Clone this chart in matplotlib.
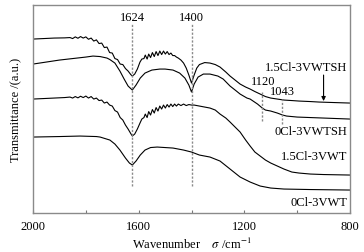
import numpy as np
import matplotlib
matplotlib.use("Agg")
import matplotlib.pyplot as plt

plt.rcParams["font.family"] = ["Liberation Serif", "DejaVu Serif"]
plt.rcParams["mathtext.fontset"] = "stix"

# wavenumber (cm-1) / transmittance (a.u.)
wn_a = [2000, 1960, 1920, 1880, 1860, 1850, 1840, 1830, 1820, 1810, 1800, 1790, 1780, 1770,
        1760, 1750, 1740, 1730, 1720, 1710, 1700, 1690, 1680, 1670, 1660, 1650, 1640, 1630,
        1624, 1615, 1605, 1595, 1588, 1580, 1575, 1568, 1562, 1555, 1548, 1541, 1534, 1527,
        1520, 1513, 1506, 1499, 1492, 1485, 1478, 1471, 1464, 1457, 1450, 1440, 1430, 1420,
        1410, 1400, 1390, 1380, 1370, 1350, 1330, 1310, 1292, 1270, 1254, 1235, 1216, 1195,
        1178, 1160, 1140, 1120, 1100, 1075, 1050, 1020, 993, 950, 917, 860, 800]
t_a = [174, 174.5, 175, 175.2, 175.5, 174.5, 176.2, 174.8, 176.5, 175, 176.2, 173.8, 175, 172,
       173.2, 169.5, 170, 165.5, 166, 160.5, 160, 154.5, 153.5, 149, 148.5, 144.5, 142, 138.5,
       137, 139, 144, 151, 154, 154.5, 158, 154, 159, 155.5, 160.5, 156.5, 161.5, 157.5,
       162, 158.5, 162, 159, 161.5, 158.5, 160, 157.5, 157.5, 156, 155, 153, 150, 145,
       138, 130, 138, 145, 148.5, 150.5, 150, 148.5, 146, 141, 137, 133, 129, 126,
       124, 121.5, 119, 116.5, 115, 114, 113, 112.5, 112, 111.5, 111, 110.5, 110]

wn_b = [2000, 1950, 1900, 1850, 1800, 1773, 1746, 1720, 1709, 1690, 1671, 1655, 1640, 1624,
        1610, 1594, 1576, 1550, 1520, 1500, 1470, 1445, 1425, 1410, 1400, 1390, 1375, 1355,
        1330, 1300, 1280, 1254, 1230, 1216, 1190, 1178, 1150, 1132, 1120, 1100, 1075, 1055,
        1040, 1000, 950, 900, 800]
t_b = [149, 151, 153, 154.5, 156, 157, 156.5, 155, 153.5, 150, 142, 134, 127, 123,
       128, 135, 140, 143, 144, 144, 143, 140, 135, 128, 121, 129, 136, 139,
       139, 137, 134, 127, 122, 119, 115, 114, 109, 105, 103, 102, 100, 98,
       97, 96, 95.5, 95, 94]

wn_c = [2000, 1960, 1920, 1880, 1860, 1850, 1840, 1830, 1820, 1810, 1800, 1790, 1780, 1770,
        1760, 1750, 1740, 1730, 1720, 1710, 1700, 1690, 1680, 1670, 1660, 1650, 1640, 1630,
        1624, 1615, 1605, 1595, 1588, 1580, 1575, 1568, 1562, 1555, 1548, 1541, 1534, 1527,
        1520, 1513, 1506, 1499, 1492, 1485, 1478, 1471, 1464, 1457, 1450, 1440, 1430, 1420,
        1410, 1400, 1390, 1370, 1350, 1330, 1310, 1292, 1270, 1254, 1235, 1216, 1195, 1178,
        1160, 1140, 1120, 1100, 1075, 1050, 1020, 993, 950, 900, 800]
t_c = [114, 114.5, 115, 115.5, 116, 115, 116.5, 115.2, 116.8, 115.5, 117, 115, 116.5, 114,
       115, 112.5, 113, 110, 111, 108, 107, 102.5, 101, 95.5, 93, 88, 84, 79.5,
       77, 79, 84, 90, 94, 95.5, 99, 95.5, 101.5, 98, 103.5, 100, 105.5, 102,
       107, 104, 108, 105, 108.5, 106, 109, 106.5, 109, 107, 109, 107.5, 109, 107.5,
       108.5, 108, 108, 107, 106, 105, 103, 99, 95, 91, 86, 81, 73, 67,
       61, 57, 53, 50, 47, 44, 41, 40, 39, 38.5, 38]

wn_d = [2000, 1900, 1822, 1760, 1746, 1709, 1690, 1671, 1650, 1635, 1624, 1610, 1594, 1576,
        1555, 1530, 1500, 1470, 1430, 1400, 1370, 1330, 1292, 1254, 1216, 1178, 1140, 1100,
        1050, 950, 800]
t_d = [76, 76.5, 77, 76.5, 76, 73, 69, 63, 55, 50, 48, 52, 58, 63,
       65.5, 66, 65.5, 65, 63, 61, 58, 56, 52, 44, 36, 31, 27, 25,
       24, 23.5, 23]

peaks = [1624, 1400]
labels = ["1.5Cl-3VWTSH", "0Cl-3VWTSH", "1.5Cl-3VWT", "0Cl-3VWT"]

fig = plt.figure(figsize=(3.64, 2.53), dpi=100)
ax = fig.add_axes([0.0907, 0.154, 0.8708, 0.822])

for wn, t in [(wn_a, t_a), (wn_b, t_b), (wn_c, t_c), (wn_d, t_d)]:
    ax.plot(wn, t, color="black", lw=0.8)

dash = dict(color="#8a8a8a", lw=1.0, linestyle=(0, (1.6, 1.2)))
for p in peaks:
    ax.plot([p, p], [27, 190], **dash)
    ax.text(p, 196, str(p), ha="center", va="center", fontsize=9)

# shoulder markers
ax.plot([1132, 1132], [92, 121], **dash)
ax.text(1128, 132, "1120", ha="center", va="center", fontsize=9)
ax.plot([1057, 1057], [89, 114], **dash)
ax.text(1057, 122, "1043", ha="center", va="center", fontsize=9)

ax.text(810, 146, labels[0], ha="right", va="center", fontsize=9)
ax.annotate("", xy=(900, 112), xytext=(900, 138),
            arrowprops=dict(arrowstyle="-|>", color="black", lw=0.8,
                            mutation_scale=6, shrinkA=0, shrinkB=0))
ax.text(810, 82, labels[1], ha="right", va="center", fontsize=9)
ax.text(810, 57, labels[2], ha="right", va="center", fontsize=9)
ax.text(810, 11, labels[3], ha="right", va="center", fontsize=9)

ax.set_xlim(2000, 800)
ax.set_ylim(0, 208)
ax.set_xticks([2000, 1600, 1200, 800])
ax.set_xticks([1800, 1400, 1000], minor=True)
ax.set_yticks([])
ax.tick_params(axis="x", which="both", direction="in", length=2.5, width=0.8,
               color="#777777", labelsize=9, pad=5)
for s in ax.spines.values():
    s.set_color("#8a8a8a")
    s.set_linewidth(1.0)

ax.set_ylabel("Transmittance /(a.u.)", fontsize=9, labelpad=8)
ax.set_xlabel(r"Wavenumber    $\sigma$ /cm$^{-1}$", fontsize=9, labelpad=3)

fig.savefig("out.png", dpi=100)
